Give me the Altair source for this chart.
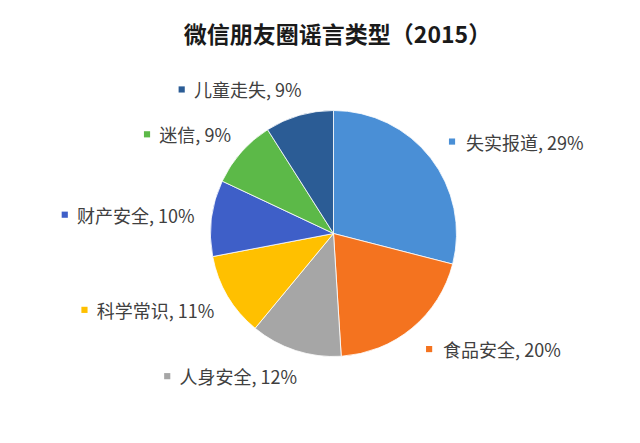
import math
import altair as alt
import pandas as pd

categories = ["失实报道", "食品安全", "人身安全", "科学常识", "财产安全", "迷信", "儿童走失"]
values = [29, 20, 12, 11, 10, 9, 9]
colors = ["#4A8FD6", "#F4731F", "#A6A6A6", "#FFC000", "#3E5FC8", "#5CB948", "#2B5C95"]
title_text = "微信朋友圈谣言类型（2015）"

FONT = "Noto Sans CJK SC"
W, H = 624, 427
CX, CY = 325.5, 225.5
R_PIE, R_LAB = 123, 150
FS = 18


def text_width(s):
    w = 0.0
    for ch in s:
        if ord(ch) > 0x2E80:
            w += 1.0
        elif ch.isdigit():
            w += 0.553
        elif ch == ",":
            w += 0.27
        elif ch == " ":
            w += 0.224
        elif ch == "%":
            w += 0.84
        else:
            w += 0.5
    return w * FS


total = sum(values)
rows = []
cum = 0
for i, (c, v) in enumerate(zip(categories, values)):
    mid = 2 * math.pi * (cum + v / 2) / total
    cum += v
    ax = CX + R_LAB * math.sin(mid)
    ay = CY - R_LAB * math.cos(mid)
    label = f"{c}, {v}%"
    right = math.sin(mid) > 0
    if right:
        mx = ax
        tx = ax + 14
    else:
        tx = ax + 10
        mx = tx - text_width(label) - 14
    rows.append(dict(idx=i, category=c, value=v, label=label,
                     side="right" if right else "left",
                     mx=mx, my=ay, tx=tx, ty=ay + 3))
df = pd.DataFrame(rows)

color_scale = alt.Scale(domain=categories, range=colors)
base = alt.Chart(df)

pie = base.mark_arc(outerRadius=R_PIE, stroke="white", strokeWidth=0.8).encode(
    theta=alt.Theta("value:Q", stack=True),
    color=alt.Color("category:N", scale=color_scale, legend=None),
    order=alt.Order("idx:Q"),
    x=alt.value(CX),
    y=alt.value(CY),
)

markers = base.mark_square(size=38, opacity=1).encode(
    x=alt.X("mx:Q", scale=None, axis=None),
    y=alt.Y("my:Q", scale=None, axis=None),
    color=alt.Color("category:N", scale=color_scale, legend=None),
)

lab_right = base.transform_filter("datum.side == 'right'").mark_text(
    align="left", baseline="middle", fontSize=FS, font=FONT, color="#404040"
).encode(
    x=alt.X("tx:Q", scale=None, axis=None),
    y=alt.Y("ty:Q", scale=None, axis=None),
    text="label:N",
)

lab_left = base.transform_filter("datum.side == 'left'").mark_text(
    align="right", baseline="middle", fontSize=FS, font=FONT, color="#404040"
).encode(
    x=alt.X("tx:Q", scale=None, axis=None),
    y=alt.Y("ty:Q", scale=None, axis=None),
    text="label:N",
)

title = alt.Chart(pd.DataFrame({"t": [title_text]})).mark_text(
    fontSize=23, fontWeight="bold", font=FONT, color="#1a1a1a", baseline="middle"
).encode(
    x=alt.value(329.5),
    y=alt.value(28),
    text="t:N",
)

chart = alt.layer(pie, markers, lab_right, lab_left, title).properties(
    width=W, height=H, padding=0, autosize="none", background="white"
).configure_view(stroke=None)

chart.save("out.html", embed_options={"renderer": "svg", "actions": False})
